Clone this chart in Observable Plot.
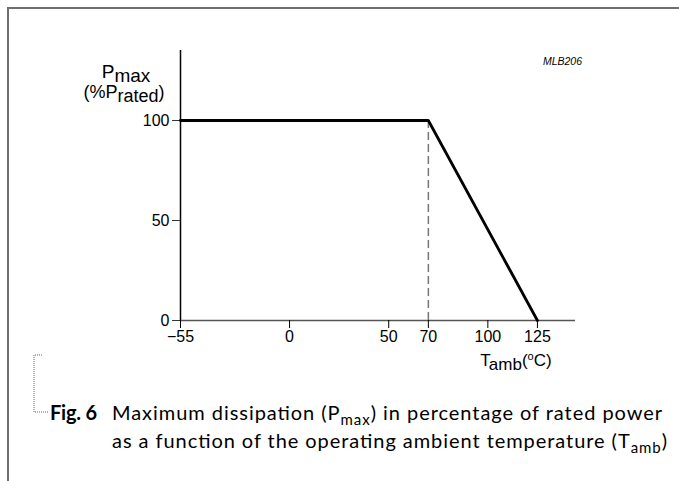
<!DOCTYPE html>
<html>
<head>
<meta charset="utf-8">
<script src="https://cdn.jsdelivr.net/npm/d3@7"></script>
<script src="https://cdn.jsdelivr.net/npm/@observablehq/plot@0.6"></script>
<style>
  html, body { margin: 0; padding: 0; background: #fff; }
  #chart { width: 679px; height: 481px; overflow: hidden; }
</style>
</head>
<body>
<div id="chart"></div>
<script>
// Data
const temps = [-55, 70, 125];        // T_amb (°C)
const pmax = [100, 100, 0];          // P_max (% P_rated)
const kneeT = [70];                  // knee temperature
const xTicks = [-55, 0, 50, 70, 100, 125];
const yTicks = [0, 50, 100];
const captionFig = "Fig. 6";
const captionLine1 = ["Maximum dissipation (P", "max", ") in percentage of rated power"];
const captionLine2 = ["as a function of the operating ambient temperature (T", "amb", ")"];
const codeLabel = "MLB206";

const data = temps.map((t, i) => ({t, p: pmax[i]}));
const fmt = d => d < 0 ? "\u2212" + Math.abs(d) : String(d);

const W = 679, H = 481;
const plot = Plot.plot({
  width: W,
  height: H,
  marginLeft: 180,
  marginRight: 104,
  marginTop: 50,
  marginBottom: 161,
  style: {fontFamily: "'Liberation Sans', Arial, sans-serif", color: "#000", background: "#fff"},
  x: {domain: [-55, 144.2]},
  y: {domain: [0, 135]},
  marks: [
    Plot.ruleY([0], {stroke: "#555", strokeWidth: 1.5}),
    Plot.ruleX([-55], {stroke: "#000", strokeWidth: 1.5}),
    Plot.ruleX(kneeT, {y1: 0, y2: 100, stroke: "#777", strokeWidth: 1.5, strokeDasharray: "8,4"}),
    Plot.axisX({ticks: xTicks, tickSize: 8, label: null, text: null, stroke: "#000"}),
    Plot.axisY({ticks: yTicks, tickSize: 8, label: null, text: null, stroke: "#333"}),
    Plot.text(xTicks, {x: d => d, y: 0, text: fmt, dy: 16, fontSize: 16, fill: "#000", fontFamily: "'Liberation Sans', Arial, sans-serif"}),
    Plot.text(yTicks, {x: -55, y: d => d, text: fmt, dx: -11, textAnchor: "end", fontSize: 16, fill: "#000", fontFamily: "'Liberation Sans', Arial, sans-serif"}),
    Plot.line(data, {x: "t", y: "p", stroke: "#000", strokeWidth: 2.8, strokeLinejoin: "miter"})
  ]
});
document.getElementById("chart").appendChild(plot);

const svg = d3.select(plot);

// frame border
svg.append("path").attr("d", "M8,481V8H679").attr("fill", "none").attr("stroke", "#6e6e6e").attr("stroke-width", 2);

const sans = "'Liberation Sans', Arial, sans-serif";
function subText(x, y, parts, opts) {
  const t = svg.append("text").attr("x", x).attr("y", y)
    .attr("font-family", opts.family).attr("font-size", opts.size)
    .attr("text-anchor", opts.anchor || "start").attr("fill", "#000");
  if (opts.length) t.attr("textLength", opts.length).attr("lengthAdjust", "spacing");
  parts.forEach((p, i) => {
    const s = t.append("tspan").text(p.text);
    if (p.dy) s.attr("dy", p.dy);
    if (p.size) s.attr("font-size", p.size);
    if (p.weight) s.attr("font-weight", p.weight);
  });
  return t;
}
// Y label
subText(126, 78, [{text: "P"}, {text: "max", dy: 4}], {family: sans, size: 19, anchor: "middle"});
subText(124, 98, [{text: "(%P"}, {text: "rated", dy: 4}, {text: ")", dy: -4}], {family: sans, size: 18, anchor: "middle"});
// X label
subText(516, 366, [{text: "T"}, {text: "amb", dy: 4}, {text: "(", dy: -4}, {text: "o", dy: -6, size: 11}, {text: "C)", dy: 6}], {family: sans, size: 17, anchor: "middle"});
// code label
svg.append("text").attr("x", 582).attr("y", 65).attr("text-anchor", "end")
  .attr("font-family", sans).attr("font-style", "italic").attr("font-size", 10.5).text(codeLabel);

// caption bracket (dotted)
svg.append("path").attr("d", "M42,355H34V412H49").attr("fill", "none")
  .attr("stroke", "#666").attr("stroke-width", 1).attr("stroke-dasharray", "1,1");

const capFont = "Lato, 'Open Sans', sans-serif";
subText(50, 420, [{text: captionFig, weight: "bold"}], {family: capFont, size: 20, length: 47});
subText(112, 420, [{text: captionLine1[0]}, {text: captionLine1[1], dy: 5, size: 15}, {text: captionLine1[2], dy: -5}], {family: capFont, size: 20, length: 550});
subText(112, 448, [{text: captionLine2[0]}, {text: captionLine2[1], dy: 5, size: 15}, {text: captionLine2[2], dy: -5}], {family: capFont, size: 20, length: 555});
</script>
</body>
</html>
